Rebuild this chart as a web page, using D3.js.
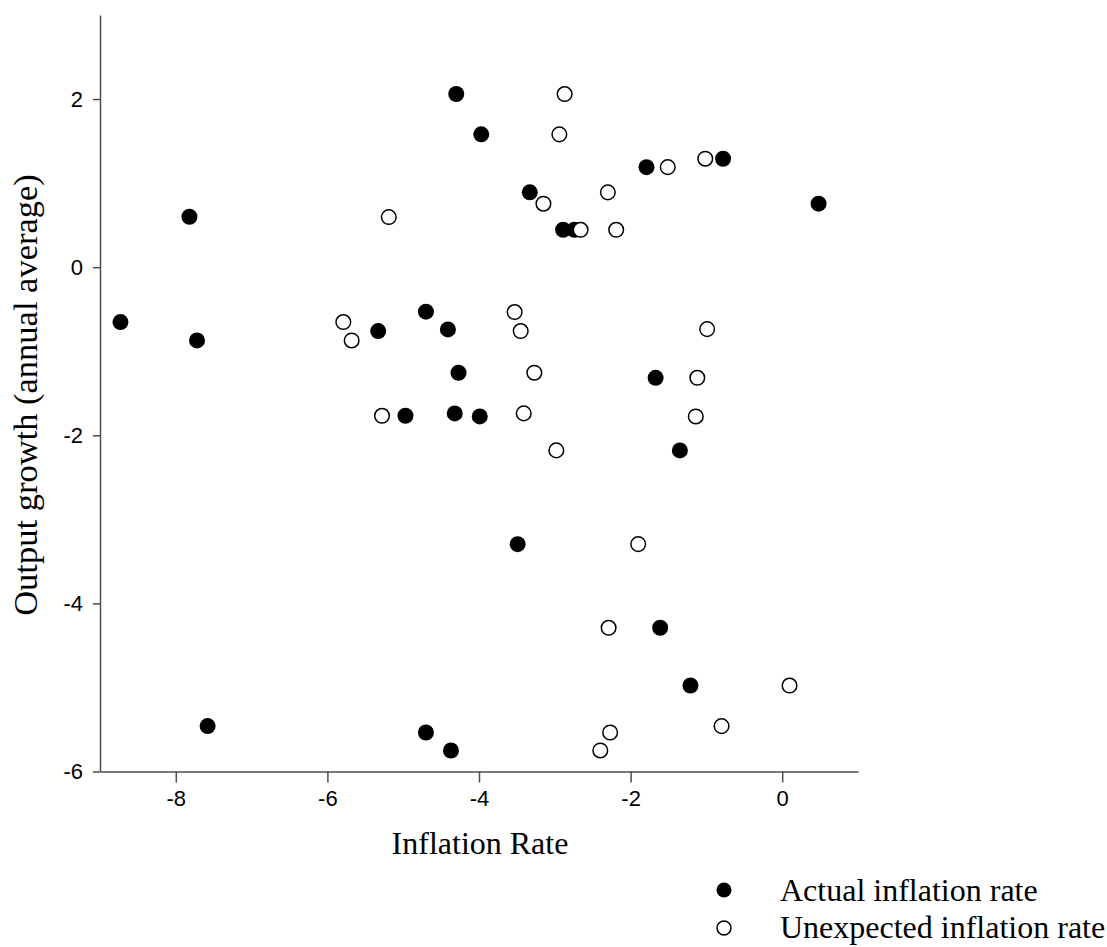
<!DOCTYPE html>
<html>
<head>
<meta charset="utf-8">
<script src="https://cdn.jsdelivr.net/npm/d3@7"></script>
<style>
  body { margin: 0; background: #fff; }
  .tick text { font-family: "Liberation Sans", Arial, sans-serif; font-size: 22px; fill: #000; }
  .axis path, .axis line { stroke: #4d4d4d; stroke-width: 1.5; }
  .title { font-family: "Liberation Serif", "Times New Roman", serif; font-size: 32px; fill: #000; }
</style>
</head>
<body>
<div id="chart"></div>
<script>
// data
var actualX = [-4.30, -7.82, -3.97, -1.79, -0.78, -3.33, 0.48, -2.89, -2.74, -8.73, -7.72, -5.33, -4.70,
  -4.41, -4.27, -4.97, -4.32, -3.99, -1.67, -1.35, -3.49, -1.61, -1.21, -4.37, -7.58, -4.70];
var actualY = [2.06, 0.60, 1.58, 1.19, 1.29, 0.89, 0.755, 0.445, 0.445, -0.653, -0.872, -0.76, -0.53,
  -0.741, -1.256, -1.768, -1.74, -1.776, -1.316, -2.18, -3.295, -4.29, -4.977, -5.75, -5.46, -5.536];

var unexpX = [-2.87, -2.94, -1.51, -1.015, -3.15, -2.30, -2.66, -2.19, -5.79, -5.68, -5.28, -3.53, -3.45,
  -0.99, -3.27, -1.12, -3.41, -1.14, -2.98, -1.90, -2.29, 0.097, -0.80, -2.27, -2.40, -5.19];
var unexpY = [2.06, 1.58, 1.19, 1.29, 0.755, 0.89, 0.445, 0.445, -0.653, -0.872, -1.768, -0.534, -0.76,
  -0.737, -1.256, -1.316, -1.74, -1.776, -2.18, -3.295, -4.29, -4.977, -5.46, -5.536, -5.75, 0.596];

var xTicks = [-8, -6, -4, -2, 0];
var yTicks = [2, 0, -2, -4, -6];
var seriesNames = ["Actual inflation rate", "Unexpected inflation rate"];

var svgWidth = 1107;
var svgHeight = 947;

var svg = d3.select("#chart")
  .append("svg")
  .attr("width", svgWidth)
  .attr("height", svgHeight);

var xScale = d3.scaleLinear().domain([-9, 1]).range([100, 858]);
var yScale = d3.scaleLinear().domain([-6, 3]).range([771.5, 15]);

// axes
svg.append("g")
  .attr("class", "axis")
  .attr("transform", "translate(0,771.5)")
  .call(d3.axisBottom(xScale).tickValues(xTicks).tickSize(11).tickSizeOuter(0).tickPadding(8).tickFormat(d3.format("d")));

svg.append("g")
  .attr("class", "axis")
  .attr("transform", "translate(100,0)")
  .call(d3.axisLeft(yScale).tickValues(yTicks).tickSize(7).tickSizeOuter(0).tickPadding(10).tickFormat(d3.format("d")));

// minus signs as plain hyphens like the original
svg.selectAll(".tick text").text(function(d) { return String(d); });

// points
var actual = actualX.map(function(x, i) { return { x: x, y: actualY[i] }; });
var unexp = unexpX.map(function(x, i) { return { x: x, y: unexpY[i] }; });

svg.append("g").selectAll("circle")
  .data(actual)
  .enter()
  .append("circle")
  .attr("cx", d => xScale(d.x))
  .attr("cy", d => yScale(d.y))
  .attr("r", 8)
  .attr("fill", "#000");

svg.append("g").selectAll("circle")
  .data(unexp)
  .enter()
  .append("circle")
  .attr("cx", d => xScale(d.x))
  .attr("cy", d => yScale(d.y))
  .attr("r", 7.3)
  .attr("fill", "#fff")
  .attr("stroke", "#000")
  .attr("stroke-width", 1.5);

// axis titles
svg.append("text")
  .attr("class", "title")
  .attr("x", 480)
  .attr("y", 854)
  .attr("text-anchor", "middle")
  .text("Inflation Rate");

svg.append("text")
  .attr("class", "title")
  .attr("transform", "translate(37,395) rotate(-90)")
  .attr("text-anchor", "middle")
  .style("font-size", "34.5px")
  .text("Output growth (annual average)");

// legend
var legend = svg.append("g");
legend.append("circle").attr("cx", 724).attr("cy", 890).attr("r", 7.5).attr("fill", "#000");
legend.append("circle").attr("cx", 724).attr("cy", 928).attr("r", 7).attr("fill", "#fff")
  .attr("stroke", "#000").attr("stroke-width", 1.5);
legend.append("text").attr("class", "title").attr("x", 780).attr("y", 901).text(seriesNames[0]);
legend.append("text").attr("class", "title").attr("x", 780).attr("y", 938).text(seriesNames[1]);
</script>
</body>
</html>
